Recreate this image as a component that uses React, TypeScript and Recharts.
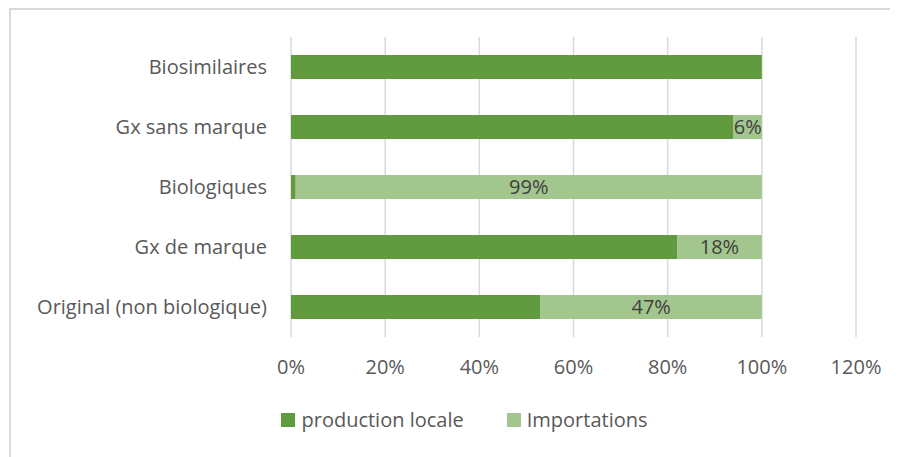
import React from "react";
import { BarChart, Bar, XAxis, YAxis, CartesianGrid, LabelList, Legend } from "recharts";

const categories = ["Biosimilaires", "Gx sans marque", "Biologiques", "Gx de marque", "Original (non biologique)"];
const productionLocale = [100, 94, 1, 82, 53];
const importations = [0, 6, 99, 18, 47];
const xTicks = [0, 20, 40, 60, 80, 100, 120];

const data = categories.map((c, i) => ({ name: c, prod: productionLocale[i], imp: importations[i] }));

const DARK = "#619a3f";
const LIGHT = "#a3c68f";
const FONT = "'Open Sans', sans-serif";
const FS = 20;

const renderLegend = () => (
  <div style={{ display: "flex", justifyContent: "center", alignItems: "center", fontFamily: FONT, fontSize: FS, color: "#595959", paddingLeft: 65 }}>
    <span style={{ display: "inline-block", width: 14, height: 14, background: DARK, marginRight: 6 }} />
    <span style={{ marginRight: 43 }}>production locale</span>
    <span style={{ display: "inline-block", width: 14, height: 14, background: LIGHT, marginRight: 6 }} />
    <span>Importations</span>
  </div>
);

export default function App() {
  return (
    <div style={{ position: "relative", width: 890, height: 449, background: "#fff" }}>
      <div style={{ position: "absolute", left: 1, top: 0, right: -10, bottom: -10, borderTop: "2px solid #d9d9d9", borderLeft: "2px solid #d9d9d9" }} />
      <BarChart
        width={890}
        height={449}
        data={data}
        layout="vertical"
        margin={{ top: 29, right: 42, bottom: 0, left: 0 }}
        barSize={24}
      >
        <CartesianGrid horizontal={false} stroke="#d9d9d9" strokeWidth={1.5} />
        <XAxis
          type="number"
          domain={[0, 120]}
          ticks={xTicks}
          tickFormatter={(v) => `${v}%`}
          axisLine={false}
          tickLine={false}
          tickMargin={17}
          height={93}
          tick={{ fill: "#595959", fontSize: FS, fontFamily: FONT }}
          interval={0}
        />
        <YAxis
          type="category"
          dataKey="name"
          width={283}
          axisLine={false}
          tickLine={false}
          tickMargin={18}
          tick={{ fill: "#595959", fontSize: FS, fontFamily: FONT }}
          interval={0}
        />
        <Legend content={renderLegend} verticalAlign="bottom" wrapperStyle={{ bottom: 24 }} />
        <Bar dataKey="prod" stackId="a" fill={DARK} isAnimationActive={false} name="production locale" />
        <Bar dataKey="imp" stackId="a" fill={LIGHT} isAnimationActive={false} name="Importations">
          <LabelList
            dataKey="imp"
            position="center"
            formatter={(v: number) => (v > 0 ? `${v}%` : "")}
            style={{ fill: "#404040", fontSize: FS, fontFamily: FONT }}
          />
        </Bar>
      </BarChart>
    </div>
  );
}
